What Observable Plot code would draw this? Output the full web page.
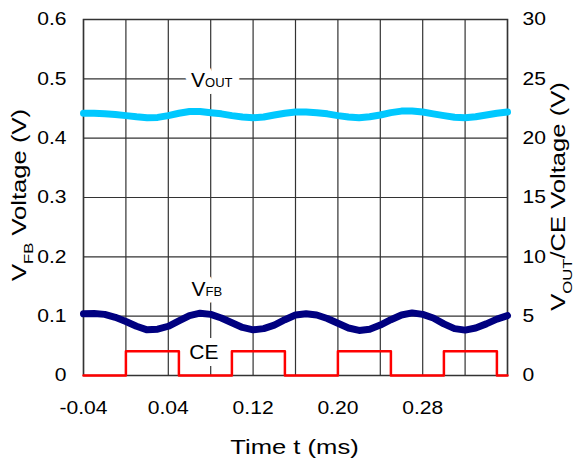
<!DOCTYPE html>
<html><head><meta charset="utf-8">
<script src="https://cdn.jsdelivr.net/npm/d3@7"></script>
<script src="https://cdn.jsdelivr.net/npm/@observablehq/plot@0.6"></script>
<style>body{margin:0;background:#fff} svg{display:block}</style>
</head><body><div id="chart"></div>
<script>
// ---- data ----
const time = [-0.04,-0.03,-0.02,-0.01,0.00,0.01,0.02,0.03,0.04,0.05,0.06,0.07,0.08,0.09,0.10,0.11,0.12,0.13,0.14,0.15,0.16,0.17,0.18,0.19,0.20,0.21,0.22,0.23,0.24,0.25,0.26,0.27,0.28,0.29,0.30,0.31,0.32,0.33,0.34,0.35,0.36];
const vfb = [0.104,0.1045,0.103,0.098,0.091,0.083,0.077,0.078,0.083,0.092,0.101,0.105,0.103,0.097,0.089,0.081,0.077,0.079,0.085,0.094,0.102,0.104,0.102,0.096,0.088,0.080,0.076,0.078,0.085,0.094,0.102,0.1055,0.103,0.097,0.087,0.079,0.0765,0.080,0.087,0.095,0.101];
const vout = [22.1,22.1,22.05,22.0,21.9,21.8,21.72,21.75,21.9,22.1,22.25,22.25,22.15,22.05,21.9,21.78,21.72,21.78,21.95,22.1,22.2,22.2,22.15,22.05,21.9,21.78,21.72,21.8,21.95,22.15,22.28,22.28,22.2,22.05,21.9,21.76,21.72,21.8,21.95,22.1,22.2];
const ceTime = [-0.04,0.00,0.05,0.10,0.15,0.20,0.25,0.30,0.35,0.36];
const ceVolt = [0,2.05,0,2.05,0,2.05,0,2.05,0,0];
const xTicks = [-0.04,0.04,0.12,0.20,0.28];
const xGrid = [-0.04,0.00,0.04,0.08,0.12,0.16,0.20,0.24,0.28,0.32,0.36];
const yTicks = [0,0.1,0.2,0.3,0.4,0.5,0.6];
const rightTicks = [0,5,10,15,20,25,30];
const rightMax = 30, leftMax = 0.6;
const labelMain = ["V","V","CE"];
const labelSub = ["OUT","FB",""];
const labelT = [0.081,0.0763,0.0735];
const labelV = [0.497,0.145,0.0396];

const toLeft = v => v * leftMax / rightMax;
const vfbData = time.map((t,i)=>({t, v: vfb[i]}));
const voutData = time.map((t,i)=>({t, v: toLeft(vout[i])}));
const ceData = ceTime.map((t,i)=>({t, v: toLeft(ceVolt[i])}));
const labels = labelMain.map((m,i)=>({m, s: labelSub[i], t: labelT[i], v: labelV[i]}));

const font = "'Liberation Sans', Arial, sans-serif";
const chart = Plot.plot({
  width: 574, height: 463,
  marginLeft: 83, marginRight: 67, marginTop: 19, marginBottom: 88,
  style: {fontFamily: font, fontSize: "18.5px", background: "white", color: "black"},
  x: {domain: [-0.04, 0.36], label: null},
  y: {domain: [0, 0.6], label: null},
  marks: [
    Plot.gridX(xGrid, {stroke: "#333", strokeOpacity: 1, strokeWidth: 1.2}),
    Plot.gridY(yTicks, {stroke: "#333", strokeOpacity: 1, strokeWidth: 1.2}),
    Plot.frame({stroke: "#333", strokeWidth: 1.5}),
    Plot.line(voutData, {x: "t", y: "v", stroke: "#00c8ff", strokeWidth: 7}),
    Plot.line(vfbData, {x: "t", y: "v", stroke: "#000080", strokeWidth: 7}),
    Plot.line(ceData, {x: "t", y: "v", curve: "step-after", stroke: "#ff0000", strokeWidth: 2.5}),
    Plot.text(labels, {x: "t", y: "v", text: "m", fontSize: 21, fill: "white", stroke: "white", strokeWidth: 14, strokeLinejoin: "round", textAnchor: "middle", lineAnchor: "middle"}),
    Plot.text(labels, {x: "t", y: "v", text: "m", fontSize: 21, fill: "black", textAnchor: "middle", lineAnchor: "middle"}),
    Plot.axisX({ticks: xTicks, tickFormat: d => d.toFixed(2), tickSize: 0, tickPadding: 25, fontSize: 18.5, label: null}),
    Plot.axisY({ticks: yTicks, anchor: "left", tickFormat: d => d === 0 ? "0" : d.toFixed(1), tickSize: 0, tickPadding: 17, fontSize: 18.5, label: null}),
    Plot.axisY({ticks: yTicks, anchor: "right", tickFormat: (d,i) => String(rightTicks[i]), tickSize: 0, tickPadding: 15, fontSize: 18.5, label: null})
  ]
});
document.getElementById("chart").appendChild(chart);
const svg = d3.select(chart);

// subscripts on line labels (both halo layer and text layer), matched by content order
const subs = labels.filter(d => d.s).map(d => d.s);
svg.selectAll("text")
  .filter(function() { return this.textContent === "V"; })
  .each(function(_, i) {
    d3.select(this).append("tspan").attr("font-size", 13).text(subs[i % subs.length]);
  });

// widen tick labels like the reference
function stretch(sel, f) {
  sel.each(function() {
    let tr = this.getAttribute("transform") || "";
    const x = this.getAttribute("x");
    if (x != null && !isNaN(+x)) { tr += ` translate(${x},0)`; this.removeAttribute("x"); }
    this.setAttribute("transform", tr + ` scale(${f},1)`);
  });
}
stretch(svg.selectAll('g[aria-label$="tick label"] text'), 1.14);

function addTitle(x, y, rot, parts) {
  const t = svg.append("text")
    .attr("transform", `translate(${x},${y})${rot ? ` rotate(${rot})` : ""} scale(1.28,1)`)
    .attr("text-anchor", "middle").attr("font-size", 20).attr("fill", "black")
    .attr("font-family", font).style("white-space", "pre");
  parts.forEach(p => {
    const s = t.append("tspan").text(p.text);
    if (p.size) s.attr("font-size", p.size);
    if (p.dy) s.attr("dy", p.dy);
  });
}
addTitle(294.5, 454, 0, [{text: "Time t (ms)"}]);
addTitle(26, 195, -90, [{text: "V"}, {text: "FB", size: 13, dy: 7}, {text: " Voltage (V)", dy: -7}]);
addTitle(565, 196.5, -90, [{text: "V"}, {text: "OUT", size: 13, dy: 7}, {text: "/CE Voltage (V)", dy: -7}]);
</script></body></html>
